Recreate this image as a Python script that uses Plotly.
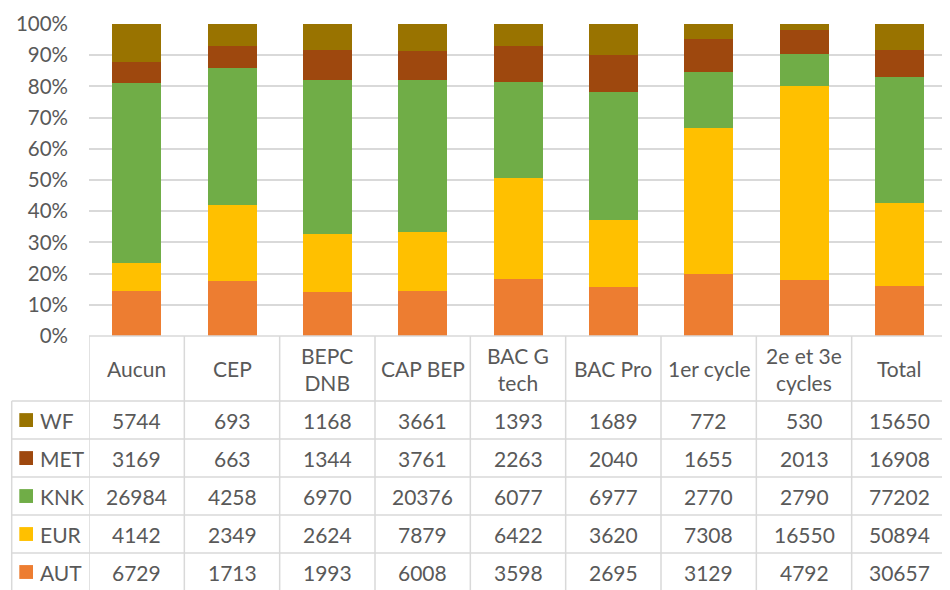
import plotly.graph_objects as go

categories = ["Aucun", "CEP", "BEPC DNB", "CAP BEP", "BAC G tech", "BAC Pro", "1er cycle", "2e et 3e cycles", "Total"]
header_labels = ["Aucun", "CEP", "BEPC<br>DNB", "CAP BEP", "BAC G<br>tech", "BAC Pro", "1er cycle", "2e et 3e<br>cycles", "Total"]

WF = [5744, 693, 1168, 3661, 1393, 1689, 772, 530, 15650]
MET = [3169, 663, 1344, 3761, 2263, 2040, 1655, 2013, 16908]
KNK = [26984, 4258, 6970, 20376, 6077, 6977, 2770, 2790, 77202]
EUR = [4142, 2349, 2624, 7879, 6422, 3620, 7308, 16550, 50894]
AUT = [6729, 1713, 1993, 6008, 3598, 2695, 3129, 4792, 30657]

series_names = ["WF", "MET", "KNK", "EUR", "AUT"]          # table order (top to bottom)
series_values = [WF, MET, KNK, EUR, AUT]
colors = {"WF": "#997300", "MET": "#9E480E", "KNK": "#70AD47", "EUR": "#FFC000", "AUT": "#ED7D31"}

FONT = "Lato"
TXT = "#595959"
GRID = "#d9d9d9"

# page has an 8px body margin: figure drawn starting at page (8, 8)
OFF = 8
W, H = 950 - OFF, 590 - OFF
L, R, T, B = 89 - OFF, 3, 21 - OFF, 254
PW = W - L - R
PH = H - T - B
AX0 = T + PH  # figure pixel y of 0% line


def px2x(px):  # px in page coordinates
    return (px - OFF - L) / PW


def px2y(py):  # py in page coordinates
    return (AX0 - (py - OFF)) / PH


fig = go.Figure()
# stack bottom -> top
for name, vals in reversed(list(zip(series_names, series_values))):
    fig.add_trace(go.Bar(x=categories, y=vals, name=name, marker=dict(color=colors[name], line=dict(width=0))))

header_bottom = 401.7
row_h = 38.35
row_lines = [header_bottom + i * row_h for i in range(6)]
table_left = 11.7
table_bottom = row_lines[-1]
axis_py = 336

shapes = []
line_style = dict(color=GRID, width=1.5)
shapes.append(dict(type="line", xref="paper", yref="paper", x0=0, x1=1, y0=0, y1=0, line=line_style))
for yl in row_lines:
    shapes.append(dict(type="line", xref="paper", yref="paper", x0=px2x(table_left), x1=1,
                       y0=px2y(yl), y1=px2y(yl), line=line_style))
for i in range(len(categories) + 1):
    shapes.append(dict(type="line", xref="x", yref="paper", x0=i - 0.5, x1=i - 0.5,
                       y0=0, y1=px2y(table_bottom), line=line_style))
shapes.append(dict(type="line", xref="paper", yref="paper", x0=px2x(table_left), x1=px2x(table_left),
                   y0=px2y(header_bottom), y1=px2y(table_bottom), line=line_style))

annotations = []
hdr_center = (axis_py + header_bottom) / 2
for cat, lab in zip(categories, header_labels):
    annotations.append(dict(x=cat, xref="x", y=px2y(hdr_center), yref="paper", text=lab, showarrow=False,
                            xanchor="center", yanchor="middle", font=dict(family=FONT, size=21, color=TXT)))

for r, (name, vals) in enumerate(zip(series_names, series_values)):
    yc = header_bottom + (r + 0.5) * row_h
    for cat, v in zip(categories, vals):
        annotations.append(dict(x=cat, xref="x", y=px2y(yc), yref="paper", text=str(v), showarrow=False,
                                xanchor="center", yanchor="middle", font=dict(family=FONT, size=21, color=TXT)))
    shapes.append(dict(type="rect", xref="paper", yref="paper", x0=px2x(19.3), x1=px2x(33),
                       y0=px2y(yc - 7), y1=px2y(yc + 7), fillcolor=colors[name], line=dict(width=0)))
    annotations.append(dict(x=px2x(38), xref="paper", y=px2y(yc), yref="paper", text=name, showarrow=False,
                            xanchor="left", yanchor="middle", font=dict(family=FONT, size=21, color=TXT)))

fig.update_layout(
    width=W, height=H,
    margin=dict(l=L, r=R, t=T, b=B, pad=0),
    barmode="stack", barnorm="percent", bargap=0.486,
    showlegend=False,
    plot_bgcolor="white", paper_bgcolor="white",
    font=dict(family=FONT, color=TXT),
    shapes=shapes, annotations=annotations,
    xaxis=dict(range=[-0.5, len(categories) - 0.5], showticklabels=False, showgrid=False,
               zeroline=False, showline=False, fixedrange=True),
    yaxis=dict(range=[0, 100], dtick=10, ticksuffix="%", showgrid=True, gridcolor=GRID, gridwidth=1.5,
               zeroline=False, showline=False, ticks="", ticklabelstandoff=20,
               tickfont=dict(family=FONT, size=20.5, color=TXT), fixedrange=True),
)

fig.write_html("out.html")
